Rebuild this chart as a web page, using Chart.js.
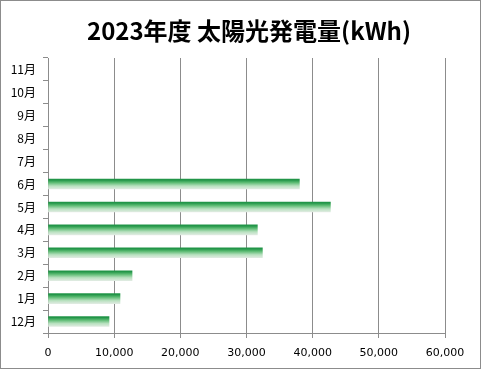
<!DOCTYPE html>
<html>
<head>
<meta charset="utf-8">
<script src="https://cdn.jsdelivr.net/npm/chart.js@4"></script>
<style>
  html, body { margin: 0; padding: 0; background: #fff; }
  #box { position: absolute; left: 0; top: 0; width: 481px; height: 369px; box-sizing: border-box; border: 1px solid #8c8c8c; background: #fff; }
  #chart { display: block; }
</style>
</head>
<body>
<div id="box"><canvas id="chart" width="479" height="367"></canvas></div>
<script>
// fiscal months, bottom to top
const months = ['12月', '1月', '2月', '3月', '4月', '5月', '6月', '7月', '8月', '9月', '10月', '11月'];
const kwh = [9220, 10880, 12700, 32400, 31640, 42680, 37990, null, null, null, null, null];
const xTicks = [0, 10000, 20000, 30000, 40000, 50000, 60000];
const TITLE = '2023年度 太陽光発電量(kWh)';

const BAR_H = 10;
const barFill = ctx => {
  const chart = ctx.chart;
  const y = chart.scales && chart.scales.y;
  if (!y || ctx.dataIndex === undefined) return '#5cb86f';
  const mid = y.getPixelForValue(ctx.dataIndex) + 1;
  if (!isFinite(mid)) return '#5cb86f';
  const g = chart.ctx.createLinearGradient(0, mid - BAR_H / 2, 0, mid + BAR_H / 2);
  g.addColorStop(0, '#229548');
  g.addColorStop(0.25, '#5cbb73');
  g.addColorStop(0.6, '#b9e1c0');
  g.addColorStop(1, '#eceeec');
  return g;
};

// title sits over the whole frame, not only the plot, so draw it by hand
const titlePlugin = {
  id: 'frameTitle',
  afterDraw(chart) {
    const c = chart.ctx;
    c.save();
    c.font = 'bold 24px "Noto Sans CJK JP"';
    c.fillStyle = '#000';
    c.textAlign = 'center';
    c.textBaseline = 'middle';
    c.fillText(TITLE, 248, 30);
    c.restore();
  }
};

new Chart(document.getElementById('chart'), {
  type: 'bar',
  data: {
    labels: months,
    datasets: [{
      label: '発電量',
      data: kwh,
      backgroundColor: barFill,
      borderWidth: 0,
      barThickness: BAR_H
    }]
  },
  options: {
    indexAxis: 'y',
    responsive: false,
    animation: false,
    layout: { padding: { left: 0, right: 35, top: 57, bottom: 0 } },
    scales: {
      x: {
        min: 0,
        max: 60000,
        afterBuildTicks: s => { s.ticks = xTicks.map(v => ({ value: v })); },
        afterFit: s => { s.height = 35; },
        grid: { color: '#8c8c8c', tickLength: 5, lineWidth: 1 },
        border: { color: '#8c8c8c' },
        ticks: {
          color: '#000',
          padding: 9,
          font: { family: 'DejaVu Sans', size: 11 },
          callback: v => v.toLocaleString('en-US')
        }
      },
      y: {
        reverse: true,
        afterFit: s => { s.width = 47; },
        grid: { drawOnChartArea: false, color: '#8c8c8c', tickLength: 5, offset: true },
        border: { color: '#8c8c8c' },
        ticks: {
          color: '#000',
          padding: 7,
          font: { family: '"Noto Sans CJK JP"', size: 12 }
        }
      }
    },
    plugins: {
      legend: { display: false },
      tooltip: { enabled: false },
      title: { display: false }
    }
  },
  plugins: [titlePlugin]
});
</script>
</body>
</html>
